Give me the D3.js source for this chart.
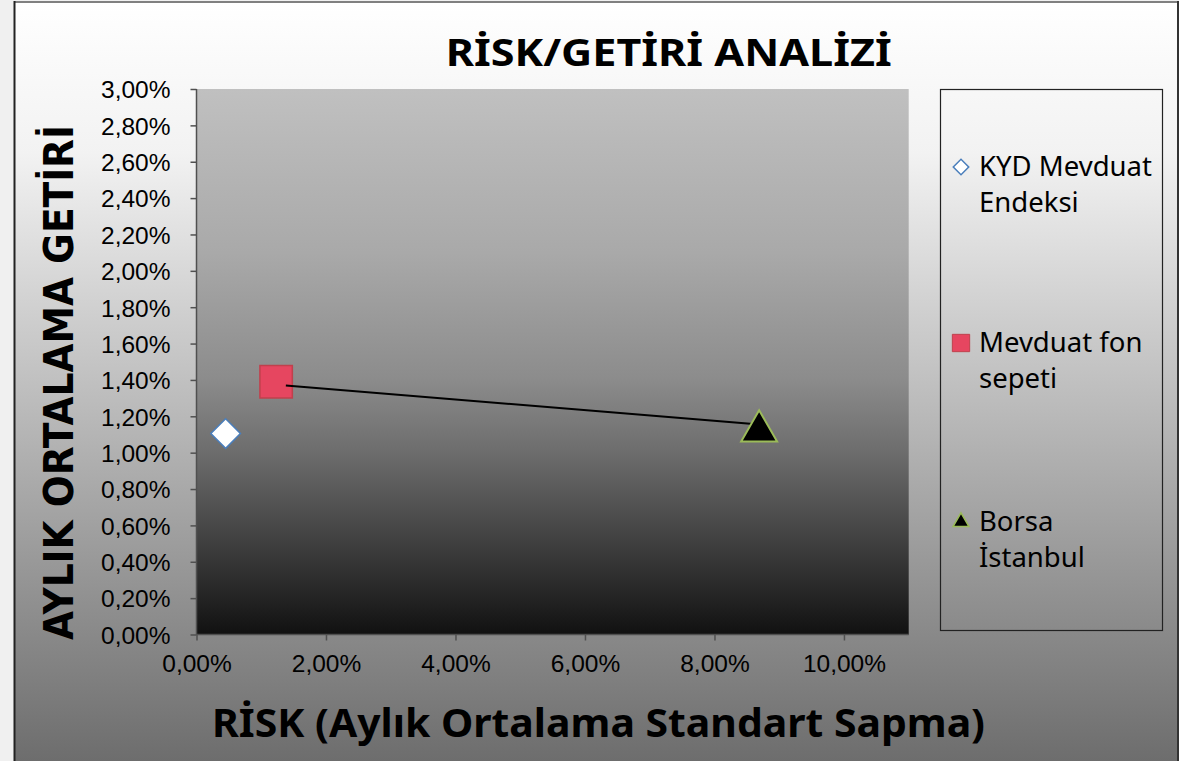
<!DOCTYPE html>
<html><head><meta charset="utf-8">
<script src="https://cdn.jsdelivr.net/npm/d3@7/dist/d3.min.js"></script>
<style>html,body{margin:0;padding:0;background:#f0f0f0;}svg{display:block;}</style>
</head><body>
<script>
// ---- data ----
const seriesNames = ["KYD Mevduat Endeksi", "Mevduat fon sepeti", "Borsa İstanbul"];
const legendLines = [["KYD Mevduat", "Endeksi"], ["Mevduat fon", "sepeti"], ["Borsa", "İstanbul"]];
const riskValues = [0.45, 1.23, 8.69];     // % (x)
const returnValues = [1.105, 1.39, 1.135];  // % (y)
const lineRisk = [1.38, 8.60];
const lineReturn = [1.37, 1.157];
const xTicks = [0, 2, 4, 6, 8, 10];
const yTicks = [0, 0.2, 0.4, 0.6, 0.8, 1.0, 1.2, 1.4, 1.6, 1.8, 2.0, 2.2, 2.4, 2.6, 2.8, 3.0];
const chartTitle = "RİSK/GETİRİ ANALİZİ";
const xTitle = "RİSK (Aylık Ortalama Standart Sapma)";
const yTitle = "AYLIK ORTALAMA GETİRİ";

const W = 1179, H = 761;
const svg = d3.select("body").append("svg").attr("width", W).attr("height", H);
const defs = svg.append("defs");
const g1 = defs.append("linearGradient").attr("id", "bgGrad").attr("x1", 0).attr("y1", 0).attr("x2", 0).attr("y2", 1);
g1.append("stop").attr("offset", "0%").attr("stop-color", "#ffffff");
g1.append("stop").attr("offset", "20%").attr("stop-color", "#f2f2f2");
g1.append("stop").attr("offset", "100%").attr("stop-color", "#6d6d6d");
const g2 = defs.append("linearGradient").attr("id", "plotGrad").attr("x1", 0).attr("y1", 0).attr("x2", 0).attr("y2", 1);
[[0, "#c0c0c0"], [0.3, "#a9a9a9"], [0.53, "#8c8c8c"], [0.66, "#6e6e6e"], [0.83, "#404040"], [1, "#111111"]]
  .forEach(([o, c]) => g2.append("stop").attr("offset", o).attr("stop-color", c));

// chart area background
svg.append("rect").attr("x", 0).attr("y", 0).attr("width", W).attr("height", H).attr("fill", "#f0f0f0");
svg.append("rect").attr("x", 14).attr("y", 1).attr("width", 1164).attr("height", 761).attr("fill", "url(#bgGrad)");
svg.append("line").attr("x1", 14).attr("x2", 1178).attr("y1", 2).attr("y2", 2).attr("stroke", "#808080").attr("stroke-width", 2);
svg.append("line").attr("x1", 14.5).attr("x2", 14.5).attr("y1", 1).attr("y2", H).attr("stroke", "#222").attr("stroke-width", 2);
svg.append("line").attr("x1", 1178).attr("x2", 1178).attr("y1", 1).attr("y2", H).attr("stroke", "#333").attr("stroke-width", 2);

const pLeft = 196.5, pRight = 908.7, pTop = 89, pBottom = 634.5;
const x = d3.scaleLinear().domain([0, 11]).range([pLeft, pRight]);
const y = d3.scaleLinear().domain([0, 3]).range([pBottom, pTop]);

svg.append("rect").attr("x", pLeft).attr("y", pTop).attr("width", pRight - pLeft).attr("height", pBottom - pTop).attr("fill", "url(#plotGrad)");

const fmt = v => d3.format(".2f")(v).replace(".", ",") + "%";
const yAxis = svg.append("g").attr("transform", `translate(${pLeft},0)`)
  .call(d3.axisLeft(y).tickValues(yTicks).tickFormat(fmt).tickSize(6).tickPadding(20));
const xAxis = svg.append("g").attr("transform", `translate(0,${pBottom})`)
  .call(d3.axisBottom(x).tickValues(xTicks).tickFormat(fmt).tickSize(6).tickPadding(14));
[yAxis, xAxis].forEach(a => {
  a.select(".domain").attr("stroke", "#505050").attr("stroke-width", 1.5);
  a.selectAll(".tick line").attr("stroke", "#505050").attr("stroke-width", 1.5);
  a.selectAll(".tick text").attr("fill", "#000").style("font-family", "'Liberation Sans', Arial, sans-serif").style("font-size", "24.5px");
});
xAxis.select(".domain").attr("d", `M${pLeft},0H${pRight}`);
yAxis.select(".domain").attr("d", `M0,${pBottom}V${pTop}`);
yAxis.selectAll(".tick text").attr("dy", "0.36em");
xAxis.selectAll(".tick text").attr("dy", "0.71em");

// markers
const markerDefs = [
  { type: d3.symbolSquare, size: 440, rot: 45, fill: "#ffffff", stroke: "#4a7ebb", sw: 1.5, lsize: 120, lsw: 1.5 },
  { type: d3.symbolSquare, size: 1050, rot: 0, fill: "#e64660", stroke: "#c0404c", sw: 1.5, lsize: 300, lsw: 1 },
  { type: d3.symbolTriangle, size: 560, rot: 0, fill: "#000000", stroke: "#9bbb59", sw: 2, lsize: 110, lsw: 1.5 }
];
function drawMarker(i) {
  const m = markerDefs[i];
  svg.append("path").attr("d", d3.symbol().type(m.type).size(m.size)())
    .attr("transform", `translate(${x(riskValues[i])},${y(returnValues[i]) + (i === 2 ? 3 : 0)}) rotate(${m.rot})`)
    .attr("fill", m.fill).attr("stroke", m.stroke).attr("stroke-width", m.sw);
}
drawMarker(1);
// line
svg.append("path").datum(d3.zip(lineRisk, lineReturn))
  .attr("d", d3.line().x(d => x(d[0])).y(d => y(d[1])))
  .attr("stroke", "#000").attr("stroke-width", 2).attr("fill", "none");
drawMarker(0);
drawMarker(2);

// legend
svg.append("rect").attr("x", 940.5).attr("y", 89.5).attr("width", 222).attr("height", 541)
  .attr("fill", "none").attr("stroke", "#222").attr("stroke-width", 1.2);
const legY = [176, 352, 531];
seriesNames.forEach((n, i) => {
  const m = markerDefs[i];
  svg.append("path").attr("d", d3.symbol().type(m.type).size(m.lsize)())
    .attr("transform", `translate(961,${legY[i] - 9}) rotate(${m.rot})`)
    .attr("fill", m.fill).attr("stroke", m.stroke).attr("stroke-width", m.lsw);
  const t = svg.append("text").attr("x", 979).attr("y", legY[i])
    .style("font-family", "'Noto Sans', 'Open Sans', sans-serif").style("font-size", "27.5px").attr("fill", "#000");
  legendLines[i].forEach((ln, j) => t.append("tspan").attr("x", 979).attr("dy", j === 0 ? 0 : 36).text(ln));
});

// titles
svg.append("text").attr("x", 445.7).attr("y", 66).attr("textLength", 446).attr("lengthAdjust", "spacingAndGlyphs")
  .style("font-family", "'Noto Sans', 'Open Sans', sans-serif").style("font-weight", "bold").style("font-size", "38px")
  .text(chartTitle);
svg.append("text").attr("x", 212).attr("y", 737).attr("textLength", 773).attr("lengthAdjust", "spacingAndGlyphs")
  .style("font-family", "'Noto Sans', 'Open Sans', sans-serif").style("font-weight", "bold").style("font-size", "40px")
  .text(xTitle);
svg.append("text").attr("transform", "translate(73,640) rotate(-90)").attr("textLength", 515).attr("lengthAdjust", "spacingAndGlyphs")
  .style("font-family", "'DejaVu Sans', sans-serif").style("font-weight", "bold").style("font-size", "40px")
  .text(yTitle);
</script>
</body></html>
